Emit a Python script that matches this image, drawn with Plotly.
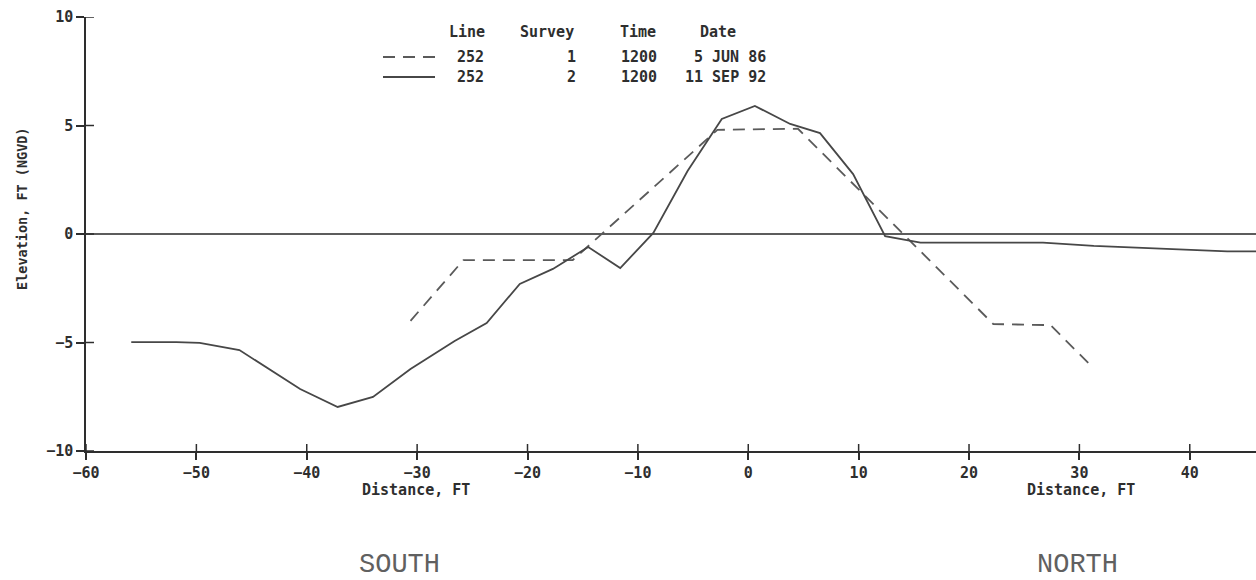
import plotly.graph_objects as go

# Beach profile, line 252
# Survey 1 (5 JUN 86) - dashed
dist_1986 = [-30.6, -25.8, -15.9, -2.8, 4.5, 22.2, 27.4, 31.3]
elev_1986 = [-4.0, -1.2, -1.2, 4.8, 4.85, -4.15, -4.2, -6.2]

# Survey 2 (11 SEP 92) - solid
dist_1992 = [-55.9, -51.8, -49.7, -46.1, -40.6, -37.2, -34.0, -30.6, -26.6,
             -23.7, -20.7, -17.7, -14.5, -11.6, -8.6, -5.5, -2.4, 0.6, 3.8,
             6.5, 9.5, 12.4, 15.6, 26.7, 31.3, 43.4, 46.0]
elev_1992 = [-4.98, -4.98, -5.02, -5.35, -7.14, -7.97, -7.51, -6.22, -4.93,
             -4.10, -2.30, -1.61, -0.60, -1.57, 0.05, 2.9, 5.3, 5.9, 5.07,
             4.65, 2.76, -0.1, -0.4, -0.4, -0.55, -0.8, -0.8]

x_ticks = [-60, -50, -40, -30, -20, -10, 0, 10, 20, 30, 40]
y_ticks = [-10, -5, 0, 5, 10]

legend_header = ["Line", "Survey", "Time", "Date"]
legend_rows = [
    ["252", "1", "1200", "5 JUN 86"],
    ["252", "2", "1200", "11 SEP 92"],
]

W, H = 1256, 580
L, R, T, B = 86, 0, 17, 129
PW, PH = W - L - R, H - T - B

MONO = "DejaVu Sans Mono"
INK = "#2e2e2e"


def px(x):
    return (x - L) / PW


def py(y):
    return (H - B - y) / PH


fig = go.Figure()

fig.add_trace(go.Scatter(
    x=dist_1986, y=elev_1986, mode="lines",
    line=dict(color="#5a5a5a", width=1.8, dash="12px,8px"),
    showlegend=False, hoverinfo="skip",
))
fig.add_trace(go.Scatter(
    x=dist_1992, y=elev_1992, mode="lines",
    line=dict(color="#474747", width=1.8),
    showlegend=False, hoverinfo="skip",
))

tick_font = dict(family=MONO, size=15, color=INK, weight="bold")

fig.update_layout(
    width=W, height=H,
    margin=dict(l=L, r=R, t=T, b=B, pad=0),
    paper_bgcolor="white", plot_bgcolor="white",
    xaxis=dict(
        range=[-60, 46], tickvals=x_ticks, ticks="outside", ticklen=7,
        tickwidth=1.5, tickcolor=INK, showline=True, linecolor=INK,
        linewidth=1.5, showgrid=False, zeroline=False, tickfont=tick_font,
    ),
    yaxis=dict(
        range=[-10, 10], tickvals=y_ticks, ticks="outside", ticklen=8,
        tickwidth=1.5, tickcolor=INK, showline=True, linecolor=INK,
        linewidth=1.5, showgrid=False, zeroline=True, zerolinecolor="#5c5c5c",
        zerolinewidth=1.8, tickfont=tick_font,
    ),
)

# tick marks cross the axes: add the inner half of each tick
for v in x_ticks:
    fig.add_shape(type="line", xref="x", yref="paper", ysizemode="pixel",
                  yanchor=0, x0=v, x1=v, y0=0, y1=7,
                  line=dict(color=INK, width=1.5))
for v in y_ticks:
    fig.add_shape(type="line", yref="y", xref="paper", xsizemode="pixel",
                  xanchor=0, y0=v, y1=v, x0=0, x1=8,
                  line=dict(color=INK, width=1.5))

label_font = dict(family=MONO, size=15, color=INK, weight="bold")
annotations = []

# axis titles
annotations.append(dict(
    text="Elevation, FT (NGVD)", x=px(22), y=py(209), xref="paper",
    yref="paper", textangle=-90, showarrow=False, xanchor="center",
    yanchor="middle", font=dict(family=MONO, size=13.5, color=INK,
                                weight="bold"),
))
for cx in (416, 1081):
    annotations.append(dict(
        text="Distance, FT", x=px(cx), y=py(490), xref="paper", yref="paper",
        showarrow=False, xanchor="center", yanchor="middle", font=label_font,
    ))

# direction labels
for word, cx in (("SOUTH", 399), ("NORTH", 1077)):
    annotations.append(dict(
        text=word, x=px(cx), y=py(565), xref="paper", yref="paper",
        showarrow=False, xanchor="center", yanchor="middle",
        font=dict(family="Liberation Mono", size=27, color="#606060"),
    ))

# legend table
head_x = [467, 547, 638, 718]
for txt, cx in zip(legend_header, head_x):
    annotations.append(dict(
        text=txt, x=px(cx), y=py(32), xref="paper", yref="paper",
        showarrow=False, xanchor="center", yanchor="middle", font=label_font,
    ))

row_y = [57, 77]
col_pos = [(470, "center"), (578, "right"), (639, "center"), (768, "right")]
for row, ry in zip(legend_rows, row_y):
    for txt, (cx, anchor) in zip(row, col_pos):
        annotations.append(dict(
            text=txt, x=px(cx), y=py(ry), xref="paper", yref="paper",
            showarrow=False, xanchor=anchor, yanchor="middle", font=label_font,
        ))

fig.update_layout(annotations=annotations)

# legend samples
sample_styles = [dict(color="#5a5a5a", width=1.8, dash="12px,8px"),
                 dict(color="#474747", width=1.8)]
for style, ry in zip(sample_styles, row_y):
    fig.add_shape(type="line", xref="paper", yref="paper",
                  x0=px(383), x1=px(435), y0=py(ry), y1=py(ry), line=style)

fig.write_html("out.html")
